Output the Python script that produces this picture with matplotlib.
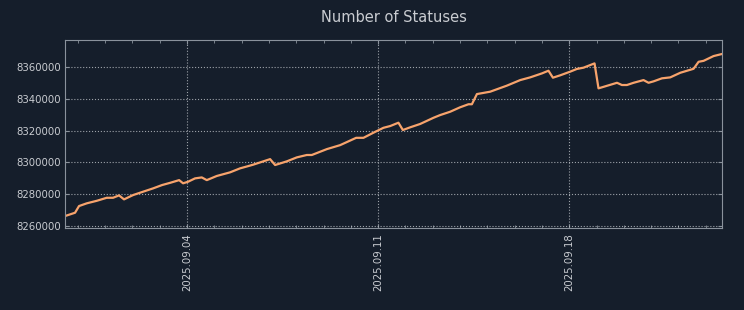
import matplotlib
matplotlib.use('Agg')
import matplotlib.pyplot as plt
import matplotlib.dates as mdates
import pandas as pd

# timestamps and status counts
times = ['2025-08-30 12:40', '2025-08-30 21:30', '2025-08-31 01:00', '2025-08-31 07:45',
         '2025-08-31 16:35', '2025-09-01 01:20', '2025-09-01 06:55', '2025-09-01 12:10',
         '2025-09-01 16:35', '2025-09-02 00:30', '2025-09-02 09:15', '2025-09-02 18:05',
         '2025-09-03 02:00', '2025-09-03 09:05', '2025-09-03 17:00', '2025-09-03 20:30',
         '2025-09-04 00:55', '2025-09-04 07:00', '2025-09-04 12:55', '2025-09-04 17:20',
         '2025-09-05 02:05', '2025-09-05 13:50', '2025-09-05 22:35', '2025-09-06 05:40',
         '2025-09-06 10:05', '2025-09-07 01:00', '2025-09-07 05:25', '2025-09-07 15:40',
         '2025-09-08 00:30', '2025-09-08 09:15', '2025-09-08 13:40', '2025-09-09 02:55',
         '2025-09-09 14:35', '2025-09-10 04:40', '2025-09-10 11:05', '2025-09-10 19:50',
         '2025-09-11 04:40', '2025-09-11 10:35', '2025-09-11 17:50', '2025-09-11 21:45',
         '2025-09-12 04:10', '2025-09-12 12:55', '2025-09-13 00:40', '2025-09-13 06:30',
         '2025-09-13 15:20', '2025-09-14 00:05', '2025-09-14 07:25', '2025-09-14 10:25',
         '2025-09-14 14:50', '2025-09-15 02:30', '2025-09-15 17:10', '2025-09-16 04:55',
         '2025-09-16 13:40', '2025-09-17 00:00', '2025-09-17 05:45', '2025-09-17 09:40',
         '2025-09-17 16:05', '2025-09-18 00:50', '2025-09-18 06:45', '2025-09-18 12:35',
         '2025-09-18 22:15', '2025-09-19 01:45', '2025-09-19 10:35', '2025-09-19 18:00',
         '2025-09-19 22:20', '2025-09-20 02:45', '2025-09-20 08:35', '2025-09-20 17:20',
         '2025-09-20 21:45', '2025-09-21 02:10', '2025-09-21 09:30', '2025-09-21 16:50',
         '2025-09-22 01:40', '2025-09-22 13:20', '2025-09-22 17:45', '2025-09-22 22:10',
         '2025-09-23 06:55', '2025-09-23 14:20']
statuses = [8266300, 8268400, 8272600, 8274300, 8275900, 8277800, 8277800, 8279300,
            8276800, 8279500, 8281600, 8283700, 8285800, 8287200, 8288900, 8286900,
            8287900, 8290000, 8290600, 8288900, 8291500, 8293800, 8296300, 8297700,
            8298600, 8302100, 8298400, 8300700, 8303200, 8304700, 8304700, 8308400,
            8310900, 8315500, 8315500, 8318700, 8321800, 8322900, 8325000, 8320400,
            8322100, 8324200, 8328100, 8329800, 8331900, 8334700, 8336600, 8336600,
            8343000, 8344500, 8348300, 8351800, 8353500, 8356000, 8357700, 8353300,
            8354800, 8357100, 8358800, 8359600, 8362300, 8346600, 8348500, 8350100,
            8348700, 8348700, 8350100, 8351800, 8350100, 8351000, 8352900, 8353500,
            8356400, 8358900, 8363300, 8363900, 8366900, 8368200]

bg = '#151e2b'
fg = '#c9ccd1'
spine = '#8a929c'

t = pd.to_datetime(times)

fig = plt.figure(figsize=(7.44, 3.10), dpi=100, facecolor=bg)
ax = fig.add_axes([65/744, 1 - 228/310, (722-65)/744, (228-40)/310])
ax.set_facecolor(bg)

ax.plot(t, statuses, color='#f7a36c', linewidth=1.6)

ax.set_xlim(t[0], t[-1])
ax.set_ylim(8258800, 8377000)

ax.xaxis.set_major_locator(mdates.DayLocator(bymonthday=[4, 11, 18, 25]))
ax.xaxis.set_major_formatter(mdates.DateFormatter('%Y.%m.%d'))
ax.xaxis.set_minor_locator(mdates.DayLocator())
ax.yaxis.set_major_locator(plt.MultipleLocator(20000))
ax.ticklabel_format(axis='y', style='plain', useOffset=False)

ax.tick_params(axis='both', which='both', direction='in', top=True, right=True,
               colors=spine, labelcolor=fg, labelsize=7.3, length=3)
ax.tick_params(axis='y', pad=3)
ax.tick_params(axis='x', which='minor', length=2)
plt.setp(ax.get_xticklabels(), rotation=90)

for s in ax.spines.values():
    s.set_color(spine)

ax.grid(True, color='#c0c4ca', linestyle=':', linewidth=0.8, alpha=0.8)

ax.set_title('Number of Statuses', color=fg, fontsize=10.5, pad=13)

fig.savefig('out.png', dpi=100, facecolor=bg)
